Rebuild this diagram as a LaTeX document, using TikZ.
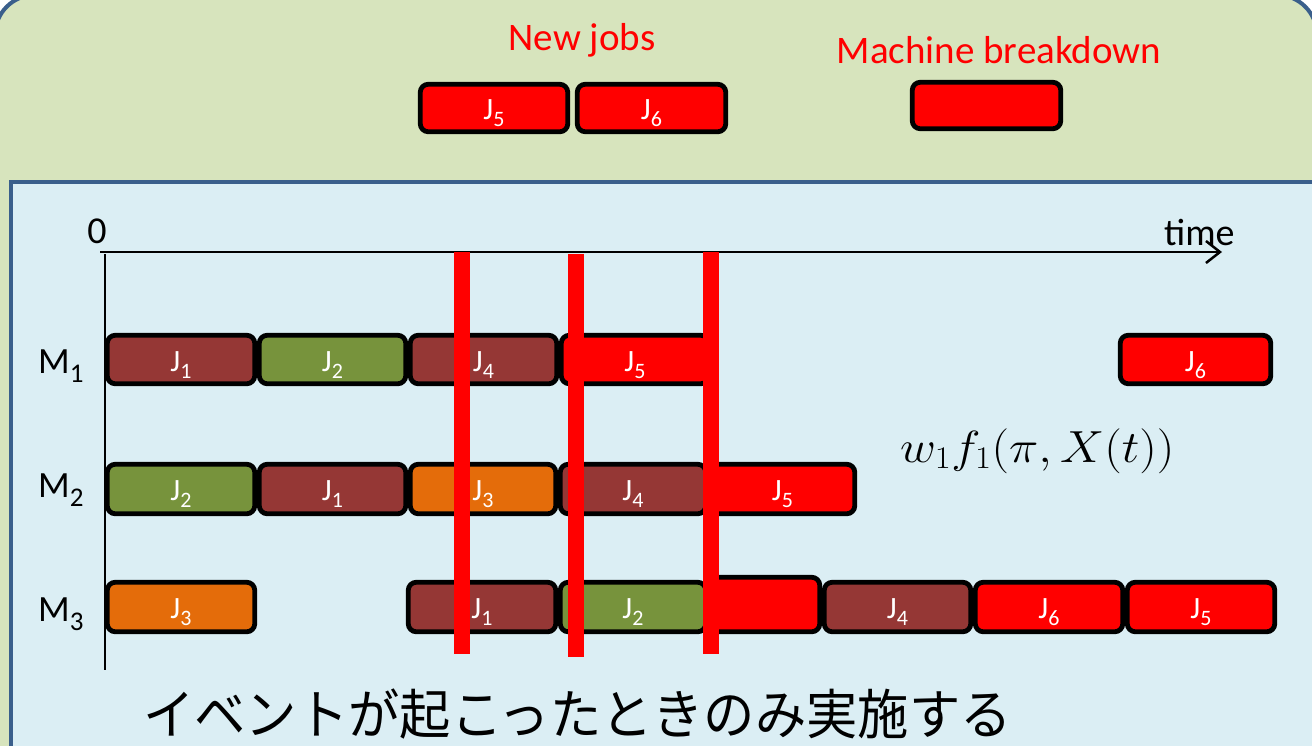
\documentclass[tikz,border=0pt]{standalone}
\usepackage{fix-cm}
\usepackage[no-math]{fontspec}
\setmainfont{Carlito}
\newfontfamily\jpfont{Noto Sans CJK JP}
\usetikzlibrary{arrows.meta}
\definecolor{dred}{HTML}{953735}
\definecolor{jgreen}{HTML}{77933C}
\definecolor{jorange}{HTML}{E46C0A}
\definecolor{bred}{HTML}{FF0000}
\definecolor{panelgreen}{HTML}{D7E4BD}
\definecolor{panelblue}{HTML}{DBEEF4}
\definecolor{borderblue}{HTML}{3A5F8B}
\newcommand\jl[1]{J\raisebox{-7pt}{\fontsize{22}{22}\selectfont #1}}
\newcommand\ml[1]{M\raisebox{-9pt}{\fontsize{27}{27}\selectfont #1}}
\newcommand\jobbox[7]{\node[jobb, fill=#6, minimum width={#3-#2-4.5}, minimum height={#5-#4-4.5}] (#1) at ({(#2+#3)/2},{(#4+#5)/2}) {#7};}
\begin{document}
\begin{tikzpicture}[x=1pt,y=-1pt,
  jobb/.style={draw=black, line width=4.8pt, rounded corners=8pt, inner sep=0pt, outer sep=0pt,
    text=white, font=\fontsize{31}{31}\selectfont, text height=24pt, text depth=1pt},
  evline/.style={fill=bred},
  redtext/.style={text=bred, inner sep=0pt, font=\fontsize{39}{39}\selectfont},
  axlabel/.style={inner sep=0pt, font=\fontsize{38}{38}\selectfont},
  mlab/.style={inner sep=0pt, font=\fontsize{37}{37}\selectfont}]
\useasboundingbox (0,0) rectangle (1312,745);
\clip (0,0) rectangle (1312,745);
% panels
\draw[borderblue, line width=4pt, fill=panelgreen, rounded corners=40pt] (-5,-5) rectangle (1317,800);
\draw[borderblue, line width=4pt, fill=panelblue] (10.5,181.5) rectangle (1340,800);
% events panel
\node[redtext, anchor=base] (newjobs) at (582,50) {New jobs};
\node[redtext, anchor=base] (breakdown) at (999,63) {Machine breakdown};
\jobbox{nj5}{418}{570}{82}{134}{bred}{\jl{5}}
\jobbox{nj6}{575}{728}{82}{134}{bred}{\jl{6}}
\jobbox{mb}{910}{1063}{80}{131}{bred}{}
% axes
\coordinate (o) at (100,252);
\coordinate (tend) at (1222,252);
\draw[line width=2.5pt, -{Straight Barb[length=14pt,width=22pt]}] (o) -- (tend);
\coordinate (vtop) at (105,254);
\coordinate (vbot) at (105,670);
\draw[line width=1.5pt] (vtop) -- (vbot);
\node[axlabel, anchor=base] (zero) at (97,243) {0};
\node[axlabel, anchor=base west] (time) at (1164,245) {time};
% machine labels
\node[mlab, anchor=base west] (m1) at (38,373) {\ml{1}};
\node[mlab, anchor=base west] (m2) at (38,497) {\ml{2}};
\node[mlab, anchor=base west] (m3) at (38,621) {\ml{3}};
% M1
\jobbox{a1}{105}{257}{333}{386}{dred}{\jl{1}}
\jobbox{a2}{257}{408}{333}{386}{jgreen}{\jl{2}}
\jobbox{a4}{408}{559}{333}{386}{dred}{\jl{4}}
\jobbox{a5}{559}{711}{333}{386}{bred}{\jl{5}}
\jobbox{a6}{1118}{1273}{333}{386}{bred}{\jl{6}}
% M2
\jobbox{b2}{105}{257}{462}{516}{jgreen}{\jl{2}}
\jobbox{b1}{257}{408}{462}{516}{dred}{\jl{1}}
\jobbox{b3}{408}{558}{462}{516}{jorange}{\jl{3}}
\jobbox{b4}{558}{708}{462}{516}{dred}{\jl{4}}
\jobbox{b5}{708}{857}{462}{516}{bred}{\jl{5}}
% M3
\jobbox{c3}{105}{257}{580}{634}{jorange}{\jl{3}}
\jobbox{c1}{406}{558}{580}{634}{dred}{\jl{1}}
\jobbox{c2}{558}{708}{580}{634}{jgreen}{\jl{2}}
\jobbox{cb}{708}{822}{575}{634}{bred}{}
\jobbox{c4}{822}{973}{580}{634}{dred}{\jl{4}}
\jobbox{c6}{973}{1125}{580}{634}{bred}{\jl{6}}
\jobbox{c5}{1125}{1277}{580}{634}{bred}{\jl{5}}
% event lines
\fill[evline] (454,252) rectangle (470,654);
\fill[evline] (568,254) rectangle (584,657);
\fill[evline] (703,252) rectangle (719,654);
% objective
\node[anchor=base west, inner sep=0pt, font=\fontsize{45}{45}\selectfont] (obj) at (900,462) {\scalebox{1.1}[1]{$w_1 f_1(\pi, X(t))$}};
% note
\node[anchor=west, inner sep=0pt, font=\jpfont\fontsize{54}{54}\selectfont] (note) at (143,714) {\scalebox{0.95}[1]{イベントが起こったときのみ実施する}};
\end{tikzpicture}
\end{document}
